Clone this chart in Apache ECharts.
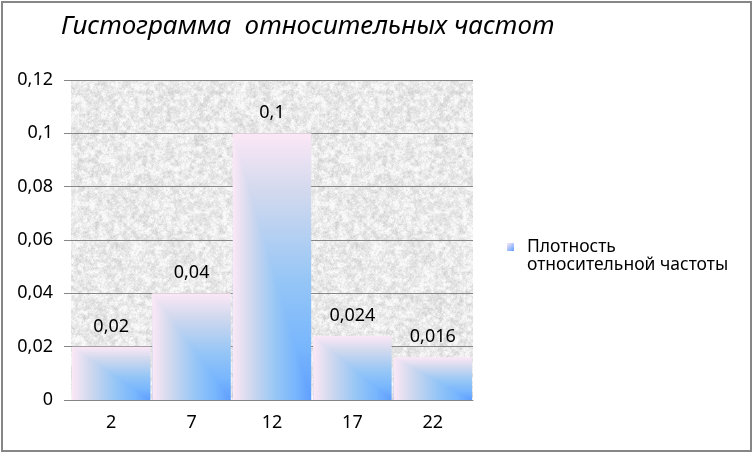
<!DOCTYPE html>
<html><head><meta charset="utf-8">
<script src="https://cdn.jsdelivr.net/npm/echarts@6/dist/echarts.min.js"></script>
<style>html,body{margin:0;padding:0;background:#fff}#c{width:754px;height:454px}</style>
</head><body><div id="c"></div>
<script>
const titleText = 'Гистограмма  относительных частот';
const seriesName = 'Плотность относительной частоты';
const legendLine1 = 'Плотность';
const legendLine2 = 'относительной частоты';
const categories = ['2', '7', '12', '17', '22'];
const values = [0.02, 0.04, 0.1, 0.024, 0.016];
const yMin = 0, yMax = 0.12, yStep = 0.02;

const fmt = v => String(parseFloat(Number(v).toFixed(4))).replace('.', ',');
const FONT = '"Noto Sans", "Open Sans", sans-serif';

// deterministic granite-like texture for plot background
function makeTexture() {
  const N = 240;
  const cv = document.createElement('canvas');
  cv.width = N; cv.height = N;
  const ctx = cv.getContext('2d');
  const img = ctx.createImageData(N, N);
  const h = (i, j, s) => { const x = Math.sin(i * 12.9898 + j * 78.233 + s * 37.719) * 43758.5453; return x - Math.floor(x); };
  const noise = (x, y, c, s) => {
    const n = Math.round(N / c);
    const gx = x / c, gy = y / c, i0 = Math.floor(gx), j0 = Math.floor(gy);
    const fx = gx - i0, fy = gy - j0;
    const a = h(i0 % n, j0 % n, s), b = h((i0 + 1) % n, j0 % n, s);
    const c2 = h(i0 % n, (j0 + 1) % n, s), d = h((i0 + 1) % n, (j0 + 1) % n, s);
    const sx = fx * fx * (3 - 2 * fx), sy = fy * fy * (3 - 2 * fy);
    return (a * (1 - sx) + b * sx) * (1 - sy) + (c2 * (1 - sx) + d * sx) * sy;
  };
  for (let y = 0; y < N; y++) for (let x = 0; x < N; x++) {
    const v = 0.4 * noise(x, y, 4, 1) + 0.35 * noise(x, y, 2, 2) + 0.25 * noise(x, y, 1, 3);
    let g = 234 + (v - 0.5) * 70;
    g = Math.max(195, Math.min(250, g));
    const k = (y * N + x) * 4;
    img.data[k] = img.data[k + 1] = img.data[k + 2] = g; img.data[k + 3] = 255;
  }
  ctx.putImageData(img, 0, 0);
  return cv;
}
const texture = makeTexture();

const stops = [
  {offset: 0, color: '#fce8f6'},
  {offset: 0.22, color: '#d2d9ee'},
  {offset: 0.55, color: '#96c6f6'},
  {offset: 0.8, color: '#78b6fd'},
  {offset: 1, color: '#5f9eff'}
];
const gradH = new echarts.graphic.LinearGradient(0, 0, 1, 0, stops);
const gradV = new echarts.graphic.LinearGradient(0, 0, 0, 1, stops);
const legendGrad = new echarts.graphic.LinearGradient(0, 0, 1, 1, [
  {offset: 0, color: '#fce8f6'}, {offset: 1, color: '#5f9eff'}
]);

// bar painted as Excel "from corner" rectangular gradient: f(min(u,v))
function renderBar(params, api) {
  const idx = api.value(0), val = api.value(1);
  const top = api.coord([idx, val]);
  const base = api.coord([idx, yMin]);
  const w = api.size([1, 0])[0] * 0.975;
  const x0 = top[0] - w / 2, x1 = top[0] + w / 2, y0 = top[1], y1 = base[1];
  return {
    type: 'group',
    children: [
      {type: 'rect', shape: {x: x0, y: y0, width: x1 - x0, height: y1 - y0}, style: {fill: gradV}},
      {type: 'polygon', shape: {points: [[x0, y0], [x0, y1], [x1, y1]]}, style: {fill: gradH}}
    ]
  };
}

const chart = echarts.init(document.getElementById('c'), null, {renderer: 'canvas'});
chart.setOption({
  animation: false,
  backgroundColor: '#fff',
  title: {
    text: titleText, left: 56, top: 9,
    textStyle: {fontFamily: FONT, fontStyle: 'italic', fontWeight: 'normal', fontSize: 26, color: '#000'}
  },
  graphic: [{
    type: 'rect', shape: {x: 2, y: 2, width: 749, height: 449},
    style: {fill: 'none', stroke: '#868686', lineWidth: 2}, silent: true, z: 100
  }, {
    type: 'text', left: 527, top: 256,
    style: {text: legendLine2, font: '17.5px ' + FONT, fill: '#000'}, silent: true
  }],
  legend: {
    left: 507, top: 238, padding: 0,
    data: [{name: seriesName, itemStyle: {color: legendGrad}}],
    itemWidth: 7, itemHeight: 8,
    icon: 'rect',
    formatter: () => legendLine1,
    textStyle: {fontFamily: FONT, fontSize: 17.5, color: '#000', padding: [0, 0, 0, 8]}
  },
  grid: {
    left: 71, right: 281, top: 80, bottom: 54,
    show: true, backgroundColor: {image: texture, repeat: 'repeat'}, borderWidth: 0
  },
  xAxis: {
    type: 'category', data: categories,
    axisLine: {lineStyle: {color: '#868686', width: 1}},
    axisTick: {length: 6, lineStyle: {color: '#868686'}},
    axisLabel: {margin: 14, fontFamily: FONT, fontSize: 18, color: '#000'}
  },
  yAxis: {
    type: 'value', min: yMin, max: yMax, interval: yStep,
    axisLine: {show: false},
    axisTick: {show: true, length: 7, lineStyle: {color: '#868686'}},
    splitLine: {lineStyle: {color: '#868686', width: 1}},
    axisLabel: {margin: 18, fontFamily: FONT, fontSize: 18, color: '#000', formatter: fmt}
  },
  series: [{
    name: seriesName, type: 'bar', data: values,
    barCategoryGap: '2.5%', z: 3,
    itemStyle: {color: 'rgba(0,0,0,0)'},
    label: {show: true, position: 'top', distance: 11, fontFamily: FONT, fontSize: 18, color: '#000', formatter: p => fmt(p.value)}
  }, {
    name: 'fill', type: 'custom', z: 2,
    data: values.map((v, i) => [i, v]),
    encode: {x: 0, y: 1},
    renderItem: renderBar, silent: true
  }]
});
</script></body></html>
